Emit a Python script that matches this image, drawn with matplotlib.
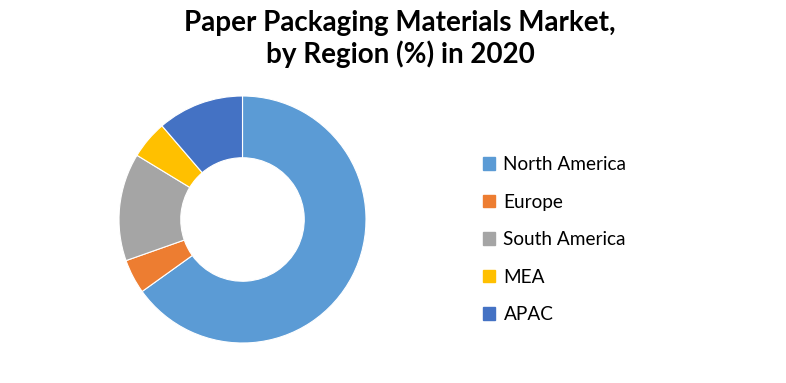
import matplotlib
matplotlib.use("Agg")
import matplotlib.pyplot as plt
from matplotlib.patches import Patch

regions = ["North America", "Europe", "South America", "MEA", "APAC"]
shares = [65.1, 4.5, 14.1, 5.0, 11.3]
colors = ["#5B9BD5", "#ED7D31", "#A5A5A5", "#FFC000", "#4472C4"]
title = "Paper Packaging Materials Market,\nby Region (%) in 2020"

plt.rcParams['font.family'] = ['Lato', 'DejaVu Sans']

W, H = 786, 383
fig = plt.figure(figsize=(W / 100, H / 100), dpi=100)
fig.patch.set_facecolor("white")

cx, cy, R = 242.5, 219.5, 123.5
ax = fig.add_axes([(cx - R) / W, (H - cy - R) / H, 2 * R / W, 2 * R / H])
ax.pie(shares, colors=colors, startangle=90, counterclock=False, radius=1,
       wedgeprops=dict(width=0.5, edgecolor="white", linewidth=0.8))
ax.set_xlim(-1, 1)
ax.set_ylim(-1, 1)
ax.set_aspect("equal")
ax.axis("off")

fig.text(400 / W, 1 - 10 / H, title, ha="center", va="top", fontsize=20,
         fontweight="bold", linespacing=1.2)

handles = [Patch(facecolor=c, edgecolor=c) for c in colors]
fig.legend(handles, regions, loc="upper left",
           bbox_to_anchor=(466 / W, 1 - 139 / H), frameon=False,
           fontsize=13.7, handlelength=0.62, handleheight=0.62,
           handletextpad=0.45, labelspacing=1.08)

fig.savefig("out.png", dpi=100)
